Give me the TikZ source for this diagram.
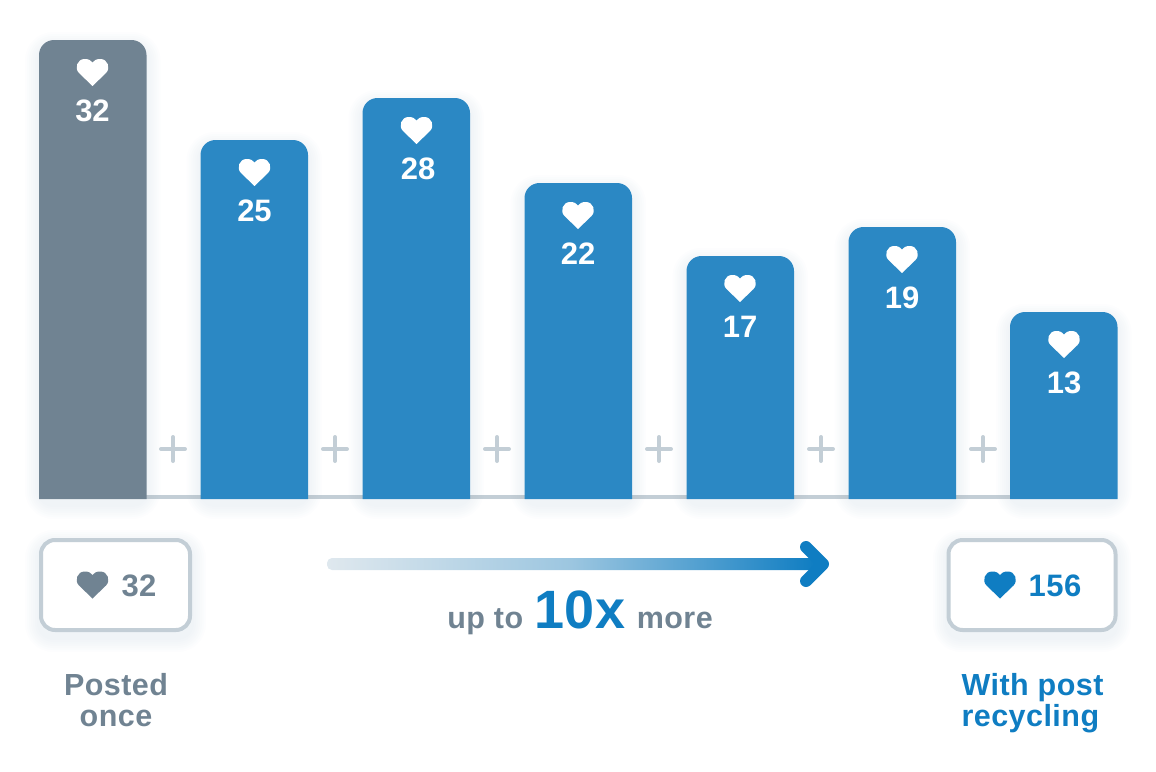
\documentclass[tikz,border=0pt]{standalone}
\usepackage{fontspec}
\setmainfont{Liberation Sans}
\newfontfamily\spacedfont[LetterSpace=1.5]{Liberation Sans}
\definecolor{barblue}{HTML}{2B88C4}
\definecolor{bargrey}{HTML}{708392}
\definecolor{linegrey}{HTML}{C3CED6}
\definecolor{inkblue}{HTML}{0F7DC2}
\definecolor{shadowblue}{HTML}{9DB7CC}
\definecolor{palebar}{HTML}{DFE8EE}
\definecolor{midbar}{HTML}{9CC6E0}
\tikzset{
    heart/.pic={
        \fill (0,13.5) -- (-13.5,0.5) .. controls (-18.5,-4.5) and (-15,-13.5) .. (-8,-13.5)
            .. controls (-4,-13.5) and (-1.2,-12.2) .. (0,-10)
            .. controls (1.2,-12.2) and (4,-13.5) .. (8,-13.5)
            .. controls (15,-13.5) and (18.5,-4.5) .. (13.5,0.5) -- cycle;
    },
    barval/.style={text=white, inner sep=0pt, font=\fontsize{31}{31}\bfseries},
    boxval/.style={inner sep=0pt, font=\fontsize{31}{31}\bfseries\spacedfont},
    capt/.style={inner sep=0pt, align=left, font=\fontsize{30.5}{31}\bfseries\spacedfont},
    countbox/.style={draw=linegrey, line width=4pt, fill=white, rounded corners=14pt, inner sep=0pt},
    plusbar/.style={draw=linegrey, line width=4pt, line cap=round},
}
% soft shadow under a shape: #1..#4 = left, top, right, bottom
\newcommand{\softshadow}[4]{
    \foreach \g in {2,4,...,14}
        \fill[shadowblue, opacity=0.025, rounded corners=\g pt+14pt]
            (#1-\g,#2-\g+6) rectangle (#3+\g,#4+\g+6);
}
% one bar: left, top, colour
\newcommand{\onebar}[3]{
    \softshadow{#1}{#2}{#1+107.5}{499}
    \fill[#3] (#1,499) [rounded corners=15pt] -- (#1,#2) -- (#1+107.5,#2) [sharp corners] -- (#1+107.5,499) -- cycle;
}
\newcommand{\plusmark}[1]{
    \coordinate (pw#1) at (#1-12,449);
    \coordinate (pe#1) at (#1+12,449);
    \coordinate (pn#1) at (#1,437);
    \coordinate (ps#1) at (#1,461);
    \draw[plusbar] (pw#1) -- (pe#1);
    \draw[plusbar] (pn#1) -- (ps#1);
}
\begin{document}
\begin{tikzpicture}[x=1pt, y=-1pt]
    \useasboundingbox (0,0) rectangle (1156,771);

    \coordinate (base0) at (146,497);
    \coordinate (base1) at (1110,497);
    \draw[linegrey, line width=4pt] (base0) -- (base1);

    \onebar{39}{40}{bargrey}
    \onebar{200.5}{140}{barblue}
    \onebar{362.5}{98}{barblue}
    \onebar{524.5}{183}{barblue}
    \onebar{686.5}{256}{barblue}
    \onebar{848.5}{227}{barblue}
    \onebar{1010}{312}{barblue}

    \pic[white] at (92.5,72.5) {heart};
    \pic[white] at (254.5,172.5) {heart};
    \pic[white] at (416.5,130.5) {heart};
    \pic[white] at (578,215.5) {heart};
    \pic[white] at (740,288.5) {heart};
    \pic[white] at (902,259.5) {heart};
    \pic[white] at (1064,344.5) {heart};

    \node[barval] (v1) at (92.5,110.5) {32};
    \node[barval] (v2) at (254.5,210.5) {25};
    \node[barval] (v3) at (418,168.5) {28};
    \node[barval] (v4) at (578,253.5) {22};
    \node[barval] (v5) at (740,326.5) {17};
    \node[barval] (v6) at (902,297.5) {19};
    \node[barval] (v7) at (1064,382.5) {13};

    \plusmark{173}
    \plusmark{335}
    \plusmark{497}
    \plusmark{659}
    \plusmark{821}
    \plusmark{983}

    \softshadow{39}{538}{192}{632}
    \softshadow{947}{538}{1117}{632}
    \node[countbox, minimum width=149pt, minimum height=90pt] (boxonce) at (115.5,585) {};
    \node[countbox, minimum width=167pt, minimum height=90pt] (boxmore) at (1032,585) {};

    \pic[bargrey] at (92.5,585) {heart};
    \node[boxval, text=bargrey] (countonce) at (139,586) {32};
    \pic[inkblue] at (1000,585) {heart};
    \node[boxval, text=inkblue] (countmore) at (1055,586) {156};

    % gradient shaft, then the head
    \shade[left color=palebar, right color=inkblue, middle color=midbar, rounded corners=5pt] (327,558) rectangle (815,570);
    \coordinate (headup) at (806,547);
    \coordinate (headtip) at (823,564);
    \coordinate (headdn) at (806,581);
    \draw[inkblue, line width=12pt, line cap=round, line join=round] (headup) -- (headtip) -- (headdn);

    \node[inner sep=0pt, text=bargrey, anchor=base] (gain) at (580,628.5)
        {\fontsize{30.5}{30.5}\bfseries\spacedfont up to\hspace{2pt} \textcolor{inkblue}{\fontsize{54}{54}\selectfont 10x}\hspace{2pt} more};

    \node[capt, align=center, text=bargrey] (capone) at (116,700) {Posted\\once};
    \node[capt, text=inkblue] (captwo) at (1032.5,703) {With post\\recycling};
\end{tikzpicture}
\end{document}
